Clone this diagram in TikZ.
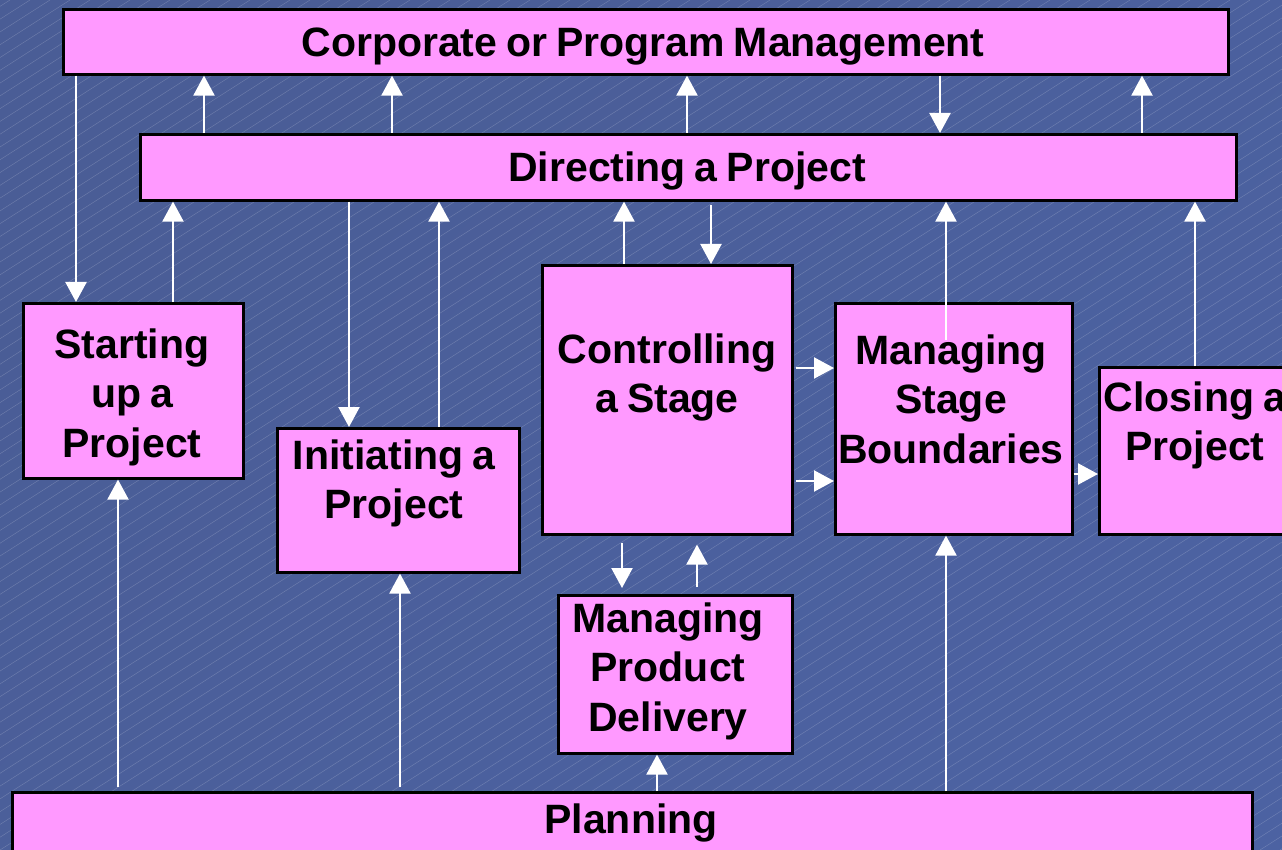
\documentclass[tikz,border=0pt]{standalone}
\usepackage{fontspec}
\setmainfont{Liberation Sans}
\usetikzlibrary{arrows.meta}
\definecolor{pinkbox}{HTML}{FF99FF}
\definecolor{bgdark}{HTML}{4A5D96}
\definecolor{bglight}{HTML}{6C82B3}
\definecolor{bgdarkb}{HTML}{4C62A2}
\newcommand{\lblfont}{\fontsize{41}{49.5}\selectfont\bfseries\fontdimen2\font=9pt\relax}
\begin{document}
\begin{tikzpicture}[x=1pt,y=-1pt,
  box/.style={draw=black, line width=2.6pt, fill=pinkbox, inner sep=0pt, anchor=north west},
  lbl/.style={font=\lblfont, align=flush center, anchor=base, inner sep=0pt, text width=300pt},
  arr/.style={draw=white, line width=2.2pt, -{Triangle[width=21pt,length=20pt]}},
  hatch/.style={draw=white, opacity=0.2, line width=0.45pt}]
\useasboundingbox (0,0) rectangle (1282,850);
\shade[top color=bgdark, middle color=bglight, bottom color=bgdarkb, shading angle=45] (0,0) rectangle (1282,850);
\begin{scope}
  \clip (0,0) rectangle (1282,850);
  \foreach \i in {-1400,-1380,...,1300} \draw[hatch] (\i,850) -- ++(1330,-850);
\end{scope}
% boxes
\node[box, minimum width=1165pt, minimum height=65pt] (corp) at (62,8) {};
\node[box, minimum width=1096pt, minimum height=66pt] (dir) at (139,133) {};
\node[box, minimum width=220pt, minimum height=175pt] (start) at (22,302) {};
\node[box, minimum width=242pt, minimum height=144pt] (init) at (276,427) {};
\node[box, minimum width=250pt, minimum height=269pt] (ctrl) at (541,264) {};
\node[box, minimum width=237pt, minimum height=231pt] (msb) at (834,302) {};
\node[box, minimum width=250pt, minimum height=167pt] (close) at (1098,366) {};
\node[box, minimum width=234pt, minimum height=158pt] (mpd) at (557,594) {};
\node[box, minimum width=1240pt, minimum height=100pt] (plan) at (11,791) {};
% labels
\node[lbl, text width=1100pt] (corpT) at (643,57) {Corporate or Program Management};
\node[lbl, text width=1000pt] (dirT) at (687,182) {Directing a Project};
\node[lbl] (startT) at (132,358) {Starting\\up a\\Project};
\node[lbl] (initT) at (394,469) {Initiating a\\Project};
\node[lbl] (ctrlT) at (667,363) {Controlling\\a Stage};
\node[lbl] (msbT) at (951,364) {Managing\\Stage\\Boundaries};
\node[lbl] (closeT) at (1195,411) {Closing a\\Project};
\node[lbl] (mpdT) at (668,632) {Managing\\Product\\Delivery};
\node[lbl, text width=1000pt] (planT) at (631,833) {Planning};
% connectors
\coordinate (msbTop) at (946,340);
\draw[arr] (76,0 |- corp.south) -- (76,0 |- start.north);
\draw[arr] (204,0 |- dir.north) -- (204,0 |- corp.south);
\draw[arr] (392,0 |- dir.north) -- (392,0 |- corp.south);
\draw[arr] (687,0 |- dir.north) -- (687,0 |- corp.south);
\draw[arr] (1142,0 |- dir.north) -- (1142,0 |- corp.south);
\draw[arr] (940,0 |- corp.south) -- (940,0 |- dir.north);
\draw[arr] (173,0 |- start.north) -- (173,0 |- dir.south);
\draw[arr] (349,0 |- dir.south) -- (349,0 |- init.north);
\draw[arr] (439,0 |- init.north) -- (439,0 |- dir.south);
\draw[arr] (624,0 |- ctrl.north) -- (624,0 |- dir.south);
\draw[arr, shorten <=3pt] (711,0 |- dir.south) -- (711,0 |- ctrl.north);
\draw[arr, shorten <=2pt] (ctrl.east |- 0,368) -- (msb.west |- 0,368);
\draw[arr, shorten <=2pt] (ctrl.east |- 0,481) -- (msb.west |- 0,481);
\draw[arr] (msbTop) -- (946,0 |- dir.south);
\draw[arr] (msb.east |- 0,474) -- (close.west |- 0,474);
\draw[arr] (1195,0 |- close.north) -- (1195,0 |- dir.south);
\draw[arr, shorten <=7pt, shorten >=6pt] (622,0 |- ctrl.south) -- (622,0 |- mpd.north);
\draw[arr, shorten <=7pt, shorten >=9pt] (697,0 |- mpd.north) -- (697,0 |- ctrl.south);
\draw[arr] (657,0 |- plan.north) -- (657,0 |- mpd.south);
\draw[arr, shorten <=4pt] (118,0 |- plan.north) -- (118,0 |- start.south);
\draw[arr, shorten <=4pt] (400,0 |- plan.north) -- (400,0 |- init.south);
\draw[arr] (946,0 |- plan.north) -- (946,0 |- msb.south);
\end{tikzpicture}
\end{document}
